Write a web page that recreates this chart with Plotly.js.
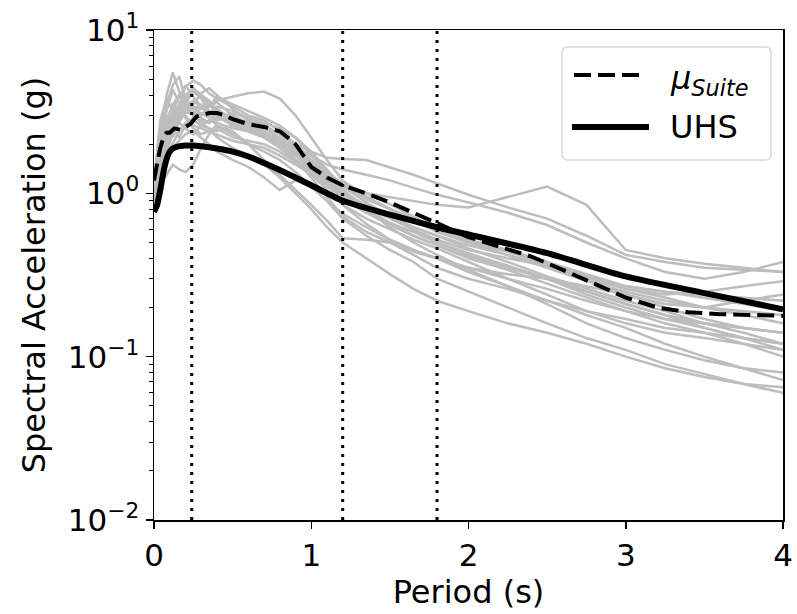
<!DOCTYPE html>
<html>
<head>
<meta charset="utf-8">
<script src="https://cdn.plot.ly/plotly-3.0.1.min.js"></script>
<style>html,body{margin:0;padding:0;background:#fff;}#chart{width:797px;height:614px;}</style>
</head>
<body>
<div id="chart"></div>
<script>
// ---- data ----
const recordPeriods = [0, 0.04, 0.08, 0.12, 0.16, 0.2, 0.25, 0.3, 0.35, 0.4, 0.5, 0.6, 0.7, 0.8, 0.9, 1.0, 1.1, 1.2, 1.35, 1.5, 1.65, 1.8, 2.0, 2.25, 2.5, 2.75, 3.0, 3.25, 3.5, 3.75, 4.0];
const rec01 = [1.0, 2.2, 4.0, 5.5, 4.2, 3.6, 3.3, 3.5, 3.2, 3.0, 2.6, 2.4, 2.2, 1.9, 1.6, 1.35, 1.15, 1.0, 0.85, 0.72, 0.62, 0.55, 0.46, 0.38, 0.31, 0.26, 0.22, 0.19, 0.16, 0.14, 0.12];
const rec02 = [1.1, 2.5, 3.5, 4.6, 5.2, 3.8, 4.3, 3.9, 3.4, 3.6, 3.0, 2.7, 2.5, 2.2, 1.8, 1.45, 1.2, 0.95, 0.78, 0.66, 0.58, 0.50, 0.43, 0.36, 0.30, 0.25, 0.21, 0.18, 0.15, 0.13, 0.11];
const rec03 = [0.9, 1.6, 2.4, 3.2, 3.9, 4.5, 4.9, 4.6, 4.1, 3.8, 3.4, 3.0, 2.8, 2.4, 2.0, 1.6, 1.3, 1.1, 0.92, 0.8, 0.7, 0.62, 0.52, 0.44, 0.37, 0.31, 0.26, 0.23, 0.2, 0.18, 0.16];
const rec04 = [1.0, 1.5, 2.2, 2.6, 2.8, 3.1, 3.4, 3.3, 3.5, 3.7, 3.9, 4.1, 4.2, 3.8, 3.0, 2.2, 1.6, 1.2, 0.95, 0.8, 0.68, 0.6, 0.52, 0.45, 0.38, 0.32, 0.27, 0.25, 0.23, 0.21, 0.19];
const rec05 = [0.95, 1.4, 2.0, 2.6, 3.0, 3.2, 3.0, 2.8, 2.7, 2.9, 3.1, 2.9, 2.6, 2.3, 2.0, 1.8, 1.65, 1.62, 1.6, 1.45, 1.3, 1.15, 0.98, 0.82, 0.70, 0.55, 0.42, 0.38, 0.35, 0.34, 0.33];
const rec06 = [1.0, 1.6, 2.5, 3.1, 3.4, 3.0, 2.6, 2.5, 2.4, 2.3, 2.1, 2.0, 1.9, 1.7, 1.5, 1.3, 1.2, 1.1, 1.0, 0.95, 0.9, 0.85, 0.82, 0.95, 1.1, 0.85, 0.45, 0.4, 0.37, 0.35, 0.33];
const rec07 = [0.85, 1.3, 1.9, 2.3, 2.7, 2.5, 2.3, 2.6, 2.8, 2.7, 2.5, 2.4, 2.3, 2.1, 1.9, 1.7, 1.5, 1.4, 1.3, 1.2, 1.08, 0.98, 0.88, 0.76, 0.64, 0.5, 0.4, 0.33, 0.3, 0.33, 0.38];
const rec08 = [0.8, 1.2, 1.6, 1.9, 2.1, 2.3, 2.4, 2.2, 2.0, 1.8, 1.6, 1.45, 1.25, 1.05, 1.2, 1.1, 0.9, 0.75, 0.62, 0.52, 0.45, 0.4, 0.33, 0.27, 0.22, 0.18, 0.15, 0.12, 0.1, 0.085, 0.072];
const rec09 = [1.2, 2.8, 3.8, 3.2, 4.0, 3.5, 3.0, 3.3, 3.6, 3.3, 2.8, 2.5, 2.6, 2.3, 1.9, 1.5, 1.15, 0.85, 0.65, 0.52, 0.45, 0.4, 0.35, 0.3, 0.26, 0.22, 0.19, 0.16, 0.14, 0.12, 0.1];
const rec10 = [0.9, 1.8, 2.6, 3.6, 3.0, 3.6, 4.2, 3.8, 3.2, 2.9, 2.7, 2.8, 2.6, 2.1, 1.6, 1.25, 0.95, 0.72, 0.58, 0.5, 0.44, 0.4, 0.35, 0.32, 0.3, 0.27, 0.24, 0.2, 0.17, 0.15, 0.14];
const rec11 = [1.0, 1.9, 3.0, 2.6, 3.3, 4.6, 3.9, 3.4, 3.1, 3.4, 3.2, 2.9, 2.7, 2.5, 2.2, 1.8, 1.4, 1.1, 0.88, 0.72, 0.6, 0.5, 0.42, 0.36, 0.3, 0.24, 0.2, 0.17, 0.15, 0.13, 0.12];
const rec12 = [0.85, 1.3, 1.7, 2.0, 2.4, 2.7, 2.9, 3.1, 2.9, 2.6, 2.3, 2.0, 1.8, 1.6, 1.35, 1.1, 0.9, 0.7, 0.55, 0.45, 0.38, 0.3, 0.25, 0.2, 0.16, 0.13, 0.11, 0.09, 0.078, 0.068, 0.06];
const rec13 = [1.1, 2.0, 2.8, 3.5, 4.0, 3.4, 3.6, 4.0, 3.7, 3.2, 2.9, 2.6, 2.3, 2.0, 1.7, 1.5, 1.3, 1.12, 0.95, 0.8, 0.68, 0.58, 0.5, 0.44, 0.38, 0.3, 0.24, 0.21, 0.2, 0.22, 0.24];
const rec14 = [0.95, 1.7, 2.3, 2.9, 3.3, 3.8, 3.4, 3.0, 3.4, 3.9, 3.5, 3.2, 2.9, 2.6, 2.2, 1.7, 1.35, 1.05, 0.82, 0.65, 0.55, 0.48, 0.4, 0.34, 0.28, 0.23, 0.19, 0.17, 0.16, 0.15, 0.14];
const rec15 = [0.8, 1.1, 1.3, 1.5, 1.4, 1.35, 1.5, 1.9, 2.3, 2.5, 2.2, 2.1, 2.0, 1.8, 1.55, 1.3, 1.05, 0.85, 0.7, 0.6, 0.52, 0.46, 0.38, 0.3, 0.24, 0.19, 0.16, 0.14, 0.13, 0.12, 0.11];
const rec16 = [1.0, 1.5, 2.1, 2.8, 3.4, 2.9, 2.5, 2.3, 2.4, 2.6, 2.4, 2.0, 1.6, 1.3, 1.05, 0.85, 0.68, 0.53, 0.52, 0.5, 0.42, 0.35, 0.3, 0.26, 0.22, 0.19, 0.17, 0.15, 0.14, 0.13, 0.12];
const rec17 = [1.2, 2.3, 3.2, 4.3, 3.6, 3.1, 3.5, 4.1, 4.4, 4.0, 3.3, 2.8, 2.4, 2.1, 1.8, 1.55, 1.35, 1.15, 1.0, 0.86, 0.72, 0.6, 0.5, 0.42, 0.35, 0.29, 0.25, 0.22, 0.2, 0.19, 0.18];
const rec18 = [0.9, 1.4, 2.0, 2.5, 2.2, 2.6, 2.8, 2.6, 2.5, 2.4, 2.6, 2.5, 2.2, 1.9, 1.6, 1.35, 1.1, 0.95, 0.82, 0.7, 0.6, 0.52, 0.45, 0.4, 0.36, 0.31, 0.27, 0.25, 0.24, 0.23, 0.22];
const rec19 = [1.0, 1.8, 2.4, 3.0, 3.5, 4.0, 4.4, 4.0, 3.5, 3.1, 2.7, 2.4, 2.2, 2.0, 1.75, 1.5, 1.25, 1.0, 0.8, 0.62, 0.5, 0.42, 0.34, 0.27, 0.21, 0.16, 0.13, 0.11, 0.095, 0.085, 0.08];
const rec20 = [0.9, 1.3, 1.8, 2.3, 2.7, 3.2, 3.0, 2.7, 2.5, 2.2, 1.9, 1.7, 1.5, 1.25, 1.0, 0.8, 0.62, 0.5, 0.4, 0.32, 0.26, 0.22, 0.19, 0.16, 0.14, 0.12, 0.1, 0.085, 0.075, 0.068, 0.065];
const rec21 = [1.05, 1.9, 2.6, 2.2, 2.9, 3.3, 3.7, 3.4, 3.0, 2.8, 3.0, 2.7, 2.3, 2.0, 1.7, 1.45, 1.22, 1.0, 0.84, 0.72, 0.62, 0.55, 0.48, 0.42, 0.36, 0.3, 0.26, 0.24, 0.25, 0.27, 0.29];
const rec22 = [0.95, 1.6, 2.1, 2.7, 3.1, 3.5, 3.2, 2.9, 2.7, 3.0, 2.8, 2.5, 2.3, 2.0, 1.7, 1.4, 1.15, 0.92, 0.76, 0.64, 0.55, 0.48, 0.41, 0.35, 0.3, 0.25, 0.21, 0.18, 0.16, 0.15, 0.14];
const records = [rec01, rec02, rec03, rec04, rec05, rec06, rec07, rec08, rec09, rec10, rec11, rec12, rec13, rec14, rec15, rec16, rec17, rec18, rec19, rec20, rec21, rec22];

const meanPeriods = [0, 0.02, 0.04, 0.06, 0.08, 0.1, 0.13, 0.17, 0.2, 0.23, 0.27, 0.3, 0.35, 0.4, 0.45, 0.5, 0.6, 0.7, 0.8, 0.85, 0.9, 0.95, 1.0, 1.1, 1.2, 1.35, 1.5, 1.65, 1.8, 2.0, 2.2, 2.4, 2.6, 2.8, 3.0, 3.2, 3.4, 3.6, 3.8, 4.0];
const meanSuite = [1.2, 1.5, 1.9, 2.2, 2.35, 2.35, 2.5, 2.45, 2.55, 2.65, 2.95, 3.0, 3.1, 3.1, 3.0, 2.85, 2.65, 2.55, 2.4, 2.2, 2.0, 1.7, 1.45, 1.25, 1.12, 1.0, 0.88, 0.76, 0.66, 0.54, 0.47, 0.41, 0.34, 0.28, 0.23, 0.2, 0.187, 0.182, 0.179, 0.178];

const uhsPeriods = [0, 0.02, 0.04, 0.06, 0.08, 0.1, 0.12, 0.15, 0.2, 0.25, 0.3, 0.4, 0.5, 0.6, 0.75, 0.9, 1.0, 1.2, 1.5, 1.8, 2.0, 2.5, 3.0, 3.5, 4.0];
const uhsValues = [0.77, 0.85, 1.05, 1.35, 1.62, 1.80, 1.88, 1.93, 1.96, 1.96, 1.94, 1.88, 1.80, 1.68, 1.46, 1.25, 1.12, 0.90, 0.74, 0.62, 0.56, 0.43, 0.31, 0.245, 0.195];

const conditioningPeriods = [0.24, 1.2, 1.8];

const yTickVals = [0.01, 0.1, 1, 10];
const yTickText = ['10<sup>−2</sup>', '10<sup>−1</sup>', '10<sup>0</sup>', '10<sup>1</sup>'];
const xTickVals = [0, 1, 2, 3, 4];
const xTickText = ['0', '1', '2', '3', '4'];
const legendMean = '<i>μ<sub>Suite</sub></i>';
const legendUHS = 'UHS';

// ---- geometry helpers (styling only) ----
const M = {l: 154, r: 14, t: 30, b: 94};
const W = 797, H = 614;
const PW = W - M.l - M.r, PH = H - M.t - M.b;
function px(x) { return (x - M.l) / PW; }
function py(y) { return (H - M.b - y) / PH; }

const meanDash = '17px,7px';

// ---- traces ----
const traces = [];
records.forEach(function (r) {
  traces.push({x: recordPeriods, y: r, type: 'scatter', mode: 'lines', showlegend: false, hoverinfo: 'skip',
    line: {color: '#bdbdbd', width: 2.5}});
});
traces.push({x: meanPeriods, y: meanSuite, type: 'scatter', mode: 'lines', name: legendMean, showlegend: false,
  line: {color: '#000', width: 4, dash: meanDash}});
traces.push({x: uhsPeriods, y: uhsValues, type: 'scatter', mode: 'lines', name: legendUHS, showlegend: false,
  line: {color: '#000', width: 6, shape: 'spline', smoothing: 0.6}});

const shapes = conditioningPeriods.map(function (p) {
  return {type: 'line', xref: 'x', yref: 'paper', x0: p, x1: p, y0: 0, y1: 1,
    line: {color: '#000', width: 3, dash: '3px,6px'}};
});

// legend box (rounded rectangle) drawn manually
(function () {
  const x0 = 562, x1 = 771, y0 = 47, y1 = 160, r = 6;
  const rx = r / PW, ry = r / PH;
  const X0 = px(x0), X1 = px(x1), Y0 = py(y0), Y1 = py(y1);
  const d = 'M ' + (X0 + rx) + ',' + Y0 + ' L ' + (X1 - rx) + ',' + Y0 +
    ' Q ' + X1 + ',' + Y0 + ' ' + X1 + ',' + (Y0 - ry) +
    ' L ' + X1 + ',' + (Y1 + ry) + ' Q ' + X1 + ',' + Y1 + ' ' + (X1 - rx) + ',' + Y1 +
    ' L ' + (X0 + rx) + ',' + Y1 + ' Q ' + X0 + ',' + Y1 + ' ' + X0 + ',' + (Y1 + ry) +
    ' L ' + X0 + ',' + (Y0 - ry) + ' Q ' + X0 + ',' + Y0 + ' ' + (X0 + rx) + ',' + Y0 + ' Z';
  shapes.push({type: 'path', xref: 'paper', yref: 'paper', path: d, fillcolor: 'rgba(255,255,255,0.85)',
    line: {color: '#d9d9d9', width: 1.5}});
  shapes.push({type: 'line', xref: 'paper', yref: 'paper', x0: px(574), x1: px(644), y0: py(75), y1: py(75),
    line: {color: '#000', width: 4, dash: meanDash}});
  shapes.push({type: 'line', xref: 'paper', yref: 'paper', x0: px(572), x1: px(649), y0: py(127), y1: py(127),
    line: {color: '#000', width: 6}});
})();

const minorVals = [];
for (let d = -2; d < 1; d++) { for (let m = 2; m <= 9; m++) minorVals.push(m * Math.pow(10, d)); }

const font = {family: 'DejaVu Sans, sans-serif', color: '#000'};
const annotations = [
  {xref: 'paper', yref: 'paper', x: px(668), y: py(80), xanchor: 'left', yanchor: 'middle', showarrow: false,
    text: legendMean, font: Object.assign({size: 32}, font)},
  {xref: 'paper', yref: 'paper', x: px(668), y: py(127), xanchor: 'left', yanchor: 'middle', showarrow: false,
    text: legendUHS, font: Object.assign({size: 32}, font)}
];

const layout = {
  width: W, height: H,
  margin: M,
  paper_bgcolor: '#fff', plot_bgcolor: '#fff',
  font: Object.assign({size: 30}, font),
  showlegend: false,
  xaxis: {range: [0, 4], tickvals: xTickVals, ticktext: xTickText, ticks: 'outside', ticklen: 7, tickwidth: 1.5,
    tickcolor: '#000', showline: true, linecolor: '#000', linewidth: 1.5, mirror: true, showgrid: false, zeroline: false,
    tickfont: Object.assign({size: 31}, font),
    title: {text: 'Period (s)', font: Object.assign({size: 32}, font), standoff: 8}},
  yaxis: {type: 'log', range: [-2, 1], tickvals: yTickVals, ticktext: yTickText, ticks: 'outside', ticklen: 7, tickwidth: 1.5,
    tickcolor: '#000', showline: true, linecolor: '#000', linewidth: 1.5, mirror: true, showgrid: false, zeroline: false,
    tickfont: Object.assign({size: 31}, font),
    minor: {tickmode: 'array', tickvals: minorVals, ticks: 'outside', ticklen: 4, tickwidth: 1, tickcolor: '#000', showgrid: false},
    title: {text: 'Spectral Acceleration (g)', font: Object.assign({size: 32}, font), standoff: 12}},
  shapes: shapes,
  annotations: annotations
};

Plotly.newPlot('chart', traces, layout, {displayModeBar: false, staticPlot: true});
</script>
</body>
</html>
